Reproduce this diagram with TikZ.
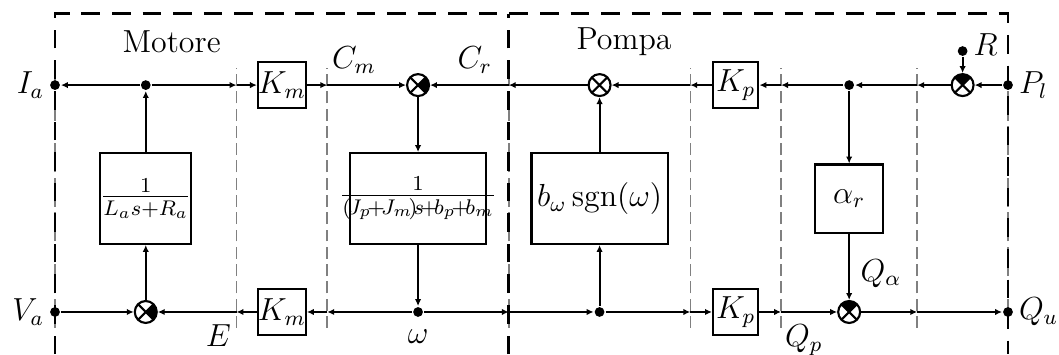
\documentclass[12pt,tikz,border=0pt]{standalone}
\usetikzlibrary{arrows.meta,positioning}
\tikzset{
  nodo/.style={circle,fill,inner sep=1.3pt},
  blocco/.style={draw,inner sep=0pt,minimum size=0.6cm},
  somma/.style={circle,draw,inner sep=0pt,minimum size=2.9mm,
    path picture={\draw (path picture bounding box.north west) -- (path picture bounding box.south east)
      (path picture bounding box.north east) -- (path picture bounding box.south west);}},
  meno/.style={somma,
    path picture={\fill[shift={(path picture bounding box.center)}] (0,0) -- (#1-45:5mm) -- (#1:7mm) -- (#1+45:5mm) -- cycle;
      \draw (path picture bounding box.north west) -- (path picture bounding box.south east)
      (path picture bounding box.north east) -- (path picture bounding box.south west);}},
  freccia/.style={-{Latex[length=2.6pt,width=2.4pt]}},
  bordo/.style={line width=1.1pt,dash pattern=on 7pt off 4.5pt},
  taglio/.style={gray,line width=0.6pt,dash pattern=on 4.5pt off 2pt},
  every label/.style={label distance=-2.5pt},
}

\begin{document}
\begin{tikzpicture}[x=0.6cm,y=0.6cm,line width=0.8pt]
  \useasboundingbox (-1.212,-0.926) rectangle (22.124,6.875);
  % confini
  \foreach \x in {0,4,6,10,14,16,19,21} \draw[taglio] (\x,-0.35) -- (\x,5.37);
  \draw[bordo] (0,-0.93) -- (0,6.57) -- (21,6.57) -- (21,-0.93);
  \draw[bordo] (10,-0.93) -- (10,6.57);
  \node at (2.57,5.95) {Motore};
  \node at (12.54,5.95) {Pompa};
  \foreach \x in {4,6,10,14,16,19} {
    \coordinate (a\x) at (\x,5); \coordinate (b\x) at (\x,0);
  }
  % linea superiore
  \node[nodo,label=left:$I_a$] (Ia) at (0,5) {};
  \node[nodo] (g1) at (2,5) {};
  \node[blocco] (Km1) at (5,5) {$K_m$};
  \node[meno=0] (s1) at (8,5) {};
  \node[somma] (s2) at (12,5) {};
  \node[blocco] (Kp1) at (15,5) {$K_p$};
  \node[nodo] (g2) at (17.5,5) {};
  \node[meno=90] (s3) at (20,5) {};
  \node[nodo,label=right:$P_l$] (Pl) at (21,5) {};
  \node[nodo,label={[yshift=2.5pt]right:$R$}] (R) at (20,5.75) {};
  % blocchi
  \node[blocco,minimum width=1.2cm,minimum height=1.2cm] (B1) at (2,2.5) {$\frac{1}{L_as+R_a}$};
  \node[blocco,minimum width=1.8cm,minimum height=1.2cm] (BJ) at (8,2.5)
    {\makebox[0pt]{$\frac{1}{(\!J_p\!+\!J_m\!)\!s\!+\!b_p\!+\!b_m}$}};
  \node[blocco,minimum width=1.8cm,minimum height=1.2cm] (Bb) at (12,2.5) {$b_\omega\,\mathrm{sgn}(\omega)$};
  \node[blocco,minimum size=0.9cm] (Ba) at (17.5,2.5) {$\alpha_r$};
  % linea inferiore
  \node[nodo,label=left:$V_a$] (Va) at (0,0) {};
  \node[meno=0] (s4) at (2,0) {};
  \node[blocco] (Km2) at (5,0) {$K_m$};
  \node[nodo,label={[label distance=0pt]below:$\omega$}] (w) at (8,0) {};
  \node[nodo] (g3) at (12,0) {};
  \node[blocco] (Kp2) at (15,0) {$K_p$};
  \node[meno=90] (s5) at (17.5,0) {};
  \node[nodo,label=right:$Q_u$] (Qu) at (21,0) {};
  % etichette
  \node[above] at (6.59,5) {$C_m$};
  \node[above] at (9.25,5) {$C_r$};
  \node at (3.6,-0.53) {$E$};
  \node at (18.2,0.85) {$Q_\alpha$};
  \node at (16.5,-0.62) {$Q_p$};
  % collegamenti superiori
  \draw[freccia] (g1) -- (Ia);
  \draw[freccia] (g1) -- (a4);
  \draw[freccia] (a4) -- (Km1);
  \draw[freccia] (Km1) -- (a6);
  \draw[freccia] (a6) -- (s1);
  \draw[freccia] (a10) -- (s1);
  \draw[freccia] (s2) -- (a10);
  \draw[freccia] (a14) -- (s2);
  \draw[freccia] (Kp1) -- (a14);
  \draw[freccia] (a16) -- (Kp1);
  \draw[freccia] (g2) -- (a16);
  \draw[freccia] (a19) -- (g2);
  \draw[freccia] (s3) -- (a19);
  \draw[freccia] (Pl) -- (s3);
  \draw[freccia] (R) -- (s3);
  % collegamenti verticali
  \draw[freccia] (B1) -- (g1);
  \draw[freccia] (s4) -- (B1);
  \draw[freccia] (s1) -- (BJ);
  \draw[freccia] (BJ) -- (w);
  \draw[freccia] (g3) -- (Bb);
  \draw[freccia] (Bb) -- (s2);
  \draw[freccia] (g2) -- (Ba);
  \draw[freccia] (Ba) -- (s5);
  % collegamenti inferiori
  \draw[freccia] (Va) -- (s4);
  \draw[freccia] (b4) -- (s4);
  \draw[freccia] (Km2) -- (b4);
  \draw[freccia] (b6) -- (Km2);
  \draw[freccia] (w) -- (b6);
  \draw[freccia] (w) -- (b10);
  \draw[freccia] (b10) -- (g3);
  \draw[freccia] (g3) -- (b14);
  \draw[freccia] (b14) -- (Kp2);
  \draw[freccia] (Kp2) -- (b16);
  \draw[freccia] (b16) -- (s5);
  \draw[freccia] (s5) -- (b19);
  \draw[freccia] (b19) -- (Qu);
\end{tikzpicture}
\end{document}
